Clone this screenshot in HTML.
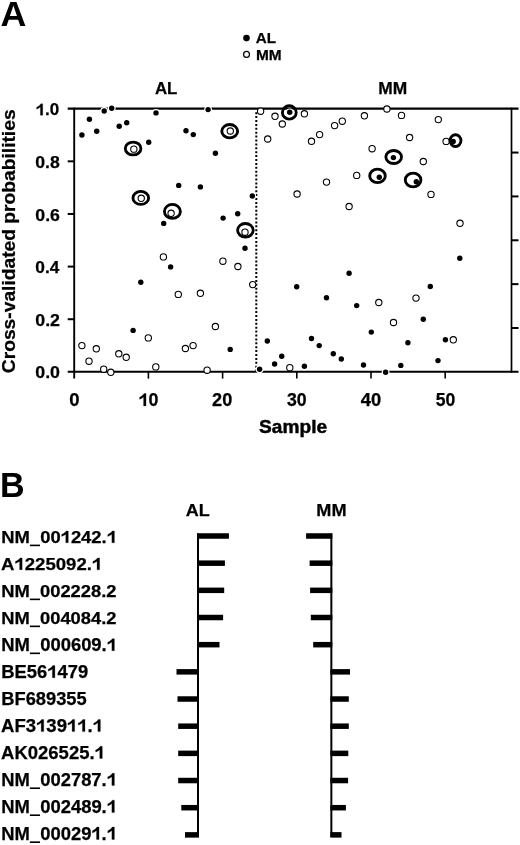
<!DOCTYPE html>
<html><head><meta charset="utf-8"><style>
html,body{margin:0;padding:0;background:#fff;}
body{width:520px;height:845px;overflow:hidden;}
svg{display:block;will-change:transform;filter:blur(0.35px);}
text{font-family:"Liberation Sans",sans-serif;font-weight:bold;fill:#000;stroke:#000;stroke-width:0.25px;font-kerning:none;}
</style></head><body>
<svg width="520" height="845" viewBox="0 0 520 845">
<g stroke="#000" stroke-width="2.0" fill="none" stroke-linecap="butt">
<line x1="74.2" y1="107.7" x2="74.2" y2="378.6" stroke-width="1.9"/>
<line x1="67.7" y1="108.7" x2="518.5" y2="108.7" stroke-width="2.2"/>
<line x1="67.7" y1="371.85" x2="518.5" y2="371.85" stroke-width="2.0"/>
<line x1="511.5" y1="107.7" x2="511.5" y2="372.85" stroke-width="1.7"/>
<line x1="67.7" y1="319.22" x2="74.2" y2="319.22"/>
<line x1="67.7" y1="266.59" x2="74.2" y2="266.59"/>
<line x1="67.7" y1="213.96" x2="74.2" y2="213.96"/>
<line x1="67.7" y1="161.33" x2="74.2" y2="161.33"/>
<line x1="511.5" y1="327.99" x2="518.5" y2="327.99"/>
<line x1="511.5" y1="284.13" x2="518.5" y2="284.13"/>
<line x1="511.5" y1="240.28" x2="518.5" y2="240.28"/>
<line x1="511.5" y1="196.42" x2="518.5" y2="196.42"/>
<line x1="511.5" y1="152.56" x2="518.5" y2="152.56"/>
<line x1="148.40" y1="371.85" x2="148.40" y2="378.6" stroke-width="1.6"/>
<line x1="222.60" y1="371.85" x2="222.60" y2="378.6" stroke-width="1.6"/>
<line x1="296.80" y1="371.85" x2="296.80" y2="378.6" stroke-width="1.6"/>
<line x1="371.00" y1="371.85" x2="371.00" y2="378.6" stroke-width="1.6"/>
<line x1="445.20" y1="371.85" x2="445.20" y2="378.6" stroke-width="1.6"/>
</g>
<line x1="256.3" y1="112.2" x2="256.3" y2="371" stroke="#000" stroke-width="2" stroke-dasharray="2 1.9"/>
<circle cx="81.9" cy="345.6" r="3.15" fill="#fff" stroke="#000" stroke-width="1.1"/>
<circle cx="89" cy="361.2" r="3.15" fill="#fff" stroke="#000" stroke-width="1.1"/>
<circle cx="96.3" cy="348.8" r="3.15" fill="#fff" stroke="#000" stroke-width="1.1"/>
<circle cx="103.7" cy="369.2" r="3.15" fill="#fff" stroke="#000" stroke-width="1.1"/>
<circle cx="110.8" cy="372.3" r="3.15" fill="#fff" stroke="#000" stroke-width="1.1"/>
<circle cx="118.8" cy="353.8" r="3.15" fill="#fff" stroke="#000" stroke-width="1.1"/>
<circle cx="126.2" cy="357.3" r="3.15" fill="#fff" stroke="#000" stroke-width="1.1"/>
<circle cx="133.85" cy="149.15" r="3.15" fill="#fff" stroke="#000" stroke-width="1.1"/>
<circle cx="141.25" cy="198.3" r="3.15" fill="#fff" stroke="#000" stroke-width="1.1"/>
<circle cx="148.3" cy="337.9" r="3.15" fill="#fff" stroke="#000" stroke-width="1.1"/>
<circle cx="155.8" cy="366.9" r="3.15" fill="#fff" stroke="#000" stroke-width="1.1"/>
<circle cx="163.4" cy="256.9" r="3.15" fill="#fff" stroke="#000" stroke-width="1.1"/>
<circle cx="171.1" cy="213.3" r="3.15" fill="#fff" stroke="#000" stroke-width="1.1"/>
<circle cx="178.3" cy="294.4" r="3.15" fill="#fff" stroke="#000" stroke-width="1.1"/>
<circle cx="185.4" cy="348.5" r="3.15" fill="#fff" stroke="#000" stroke-width="1.1"/>
<circle cx="193.1" cy="345.6" r="3.15" fill="#fff" stroke="#000" stroke-width="1.1"/>
<circle cx="200.4" cy="293.3" r="3.15" fill="#fff" stroke="#000" stroke-width="1.1"/>
<circle cx="207.1" cy="370.2" r="3.15" fill="#fff" stroke="#000" stroke-width="1.1"/>
<circle cx="215.4" cy="326.5" r="3.15" fill="#fff" stroke="#000" stroke-width="1.1"/>
<circle cx="222.9" cy="261.2" r="3.15" fill="#fff" stroke="#000" stroke-width="1.1"/>
<circle cx="230.3" cy="131" r="3.15" fill="#fff" stroke="#000" stroke-width="1.1"/>
<circle cx="237.9" cy="266.5" r="3.15" fill="#fff" stroke="#000" stroke-width="1.1"/>
<circle cx="245" cy="232.2" r="3.15" fill="#fff" stroke="#000" stroke-width="1.1"/>
<circle cx="252.7" cy="284.6" r="3.15" fill="#fff" stroke="#000" stroke-width="1.1"/>
<circle cx="260.6" cy="111.2" r="3.15" fill="#fff" stroke="#000" stroke-width="1.1"/>
<circle cx="267.7" cy="139" r="3.15" fill="#fff" stroke="#000" stroke-width="1.1"/>
<circle cx="275" cy="116.3" r="3.15" fill="#fff" stroke="#000" stroke-width="1.1"/>
<circle cx="282.3" cy="124" r="3.15" fill="#fff" stroke="#000" stroke-width="1.1"/>
<circle cx="289.8" cy="367.7" r="3.15" fill="#fff" stroke="#000" stroke-width="1.1"/>
<circle cx="297.1" cy="194" r="3.15" fill="#fff" stroke="#000" stroke-width="1.1"/>
<circle cx="304.4" cy="113.8" r="3.15" fill="#fff" stroke="#000" stroke-width="1.1"/>
<circle cx="311.5" cy="141.3" r="3.15" fill="#fff" stroke="#000" stroke-width="1.1"/>
<circle cx="319.6" cy="134.6" r="3.15" fill="#fff" stroke="#000" stroke-width="1.1"/>
<circle cx="326.5" cy="182.1" r="3.15" fill="#fff" stroke="#000" stroke-width="1.1"/>
<circle cx="334.6" cy="125.6" r="3.15" fill="#fff" stroke="#000" stroke-width="1.1"/>
<circle cx="342.3" cy="121.2" r="3.15" fill="#fff" stroke="#000" stroke-width="1.1"/>
<circle cx="349.1" cy="206.5" r="3.15" fill="#fff" stroke="#000" stroke-width="1.1"/>
<circle cx="356.7" cy="175.4" r="3.15" fill="#fff" stroke="#000" stroke-width="1.1"/>
<circle cx="364.4" cy="115.8" r="3.15" fill="#fff" stroke="#000" stroke-width="1.1"/>
<circle cx="372.1" cy="148.7" r="3.15" fill="#fff" stroke="#000" stroke-width="1.1"/>
<circle cx="378.8" cy="302.5" r="3.15" fill="#fff" stroke="#000" stroke-width="1.1"/>
<circle cx="386.9" cy="109" r="3.15" fill="#fff" stroke="#000" stroke-width="1.1"/>
<circle cx="393.5" cy="322.5" r="3.15" fill="#fff" stroke="#000" stroke-width="1.1"/>
<circle cx="401.5" cy="115.4" r="3.15" fill="#fff" stroke="#000" stroke-width="1.1"/>
<circle cx="409.6" cy="137.5" r="3.15" fill="#fff" stroke="#000" stroke-width="1.1"/>
<circle cx="416" cy="298.1" r="3.15" fill="#fff" stroke="#000" stroke-width="1.1"/>
<circle cx="423.3" cy="161.5" r="3.15" fill="#fff" stroke="#000" stroke-width="1.1"/>
<circle cx="431" cy="194.4" r="3.15" fill="#fff" stroke="#000" stroke-width="1.1"/>
<circle cx="438.3" cy="119.6" r="3.15" fill="#fff" stroke="#000" stroke-width="1.1"/>
<circle cx="446.1" cy="141.4" r="3.15" fill="#fff" stroke="#000" stroke-width="1.1"/>
<circle cx="453.3" cy="339.8" r="3.15" fill="#fff" stroke="#000" stroke-width="1.1"/>
<circle cx="460" cy="223.3" r="3.15" fill="#fff" stroke="#000" stroke-width="1.1"/>
<circle cx="81.9" cy="135" r="3.9000000000000004" fill="#fff"/>
<circle cx="89.4" cy="119.2" r="3.9000000000000004" fill="#fff"/>
<circle cx="96.7" cy="131.3" r="3.9000000000000004" fill="#fff"/>
<circle cx="104.2" cy="111" r="3.9000000000000004" fill="#fff"/>
<circle cx="111.7" cy="108.3" r="3.9000000000000004" fill="#fff"/>
<circle cx="119.2" cy="126.3" r="3.9000000000000004" fill="#fff"/>
<circle cx="126.7" cy="122.7" r="3.9000000000000004" fill="#fff"/>
<circle cx="133.1" cy="330.4" r="3.9000000000000004" fill="#fff"/>
<circle cx="140.8" cy="282.3" r="3.9000000000000004" fill="#fff"/>
<circle cx="148.7" cy="142.3" r="3.9000000000000004" fill="#fff"/>
<circle cx="156" cy="112.9" r="3.9000000000000004" fill="#fff"/>
<circle cx="163.7" cy="223.4" r="3.9000000000000004" fill="#fff"/>
<circle cx="170.6" cy="266.9" r="3.9000000000000004" fill="#fff"/>
<circle cx="178.7" cy="185.4" r="3.9000000000000004" fill="#fff"/>
<circle cx="186" cy="130.8" r="3.9000000000000004" fill="#fff"/>
<circle cx="193.3" cy="134.6" r="3.9000000000000004" fill="#fff"/>
<circle cx="200.4" cy="186.9" r="3.9000000000000004" fill="#fff"/>
<circle cx="208.1" cy="109.6" r="3.9000000000000004" fill="#fff"/>
<circle cx="215.4" cy="153.3" r="3.9000000000000004" fill="#fff"/>
<circle cx="223.1" cy="218.1" r="3.9000000000000004" fill="#fff"/>
<circle cx="230.2" cy="349.4" r="3.9000000000000004" fill="#fff"/>
<circle cx="237.7" cy="213.7" r="3.9000000000000004" fill="#fff"/>
<circle cx="245" cy="248.3" r="3.9000000000000004" fill="#fff"/>
<circle cx="252.3" cy="196" r="3.9000000000000004" fill="#fff"/>
<circle cx="259.6" cy="369.2" r="3.9000000000000004" fill="#fff"/>
<circle cx="267.3" cy="341" r="3.9000000000000004" fill="#fff"/>
<circle cx="274.6" cy="364" r="3.9000000000000004" fill="#fff"/>
<circle cx="281.7" cy="356.3" r="3.9000000000000004" fill="#fff"/>
<circle cx="289.7" cy="112.3" r="3.9000000000000004" fill="#fff"/>
<circle cx="296.7" cy="286.7" r="3.9000000000000004" fill="#fff"/>
<circle cx="304.4" cy="366.3" r="3.9000000000000004" fill="#fff"/>
<circle cx="311.5" cy="338.5" r="3.9000000000000004" fill="#fff"/>
<circle cx="319.2" cy="345.6" r="3.9000000000000004" fill="#fff"/>
<circle cx="326.5" cy="297.7" r="3.9000000000000004" fill="#fff"/>
<circle cx="333.3" cy="353.8" r="3.9000000000000004" fill="#fff"/>
<circle cx="341.3" cy="359" r="3.9000000000000004" fill="#fff"/>
<circle cx="349.1" cy="273.3" r="3.9000000000000004" fill="#fff"/>
<circle cx="356.7" cy="305.6" r="3.9000000000000004" fill="#fff"/>
<circle cx="363.5" cy="365" r="3.9000000000000004" fill="#fff"/>
<circle cx="371.3" cy="332.1" r="3.9000000000000004" fill="#fff"/>
<circle cx="379.3" cy="177.2" r="3.9000000000000004" fill="#fff"/>
<circle cx="385.6" cy="372.3" r="3.9000000000000004" fill="#fff"/>
<circle cx="393.4" cy="157.6" r="3.9000000000000004" fill="#fff"/>
<circle cx="400.8" cy="365.4" r="3.9000000000000004" fill="#fff"/>
<circle cx="407.9" cy="342.7" r="3.9000000000000004" fill="#fff"/>
<circle cx="416.3" cy="181.7" r="3.9000000000000004" fill="#fff"/>
<circle cx="423.3" cy="319.2" r="3.9000000000000004" fill="#fff"/>
<circle cx="430.3" cy="286.5" r="3.9000000000000004" fill="#fff"/>
<circle cx="438" cy="360.6" r="3.9000000000000004" fill="#fff"/>
<circle cx="445.4" cy="339.8" r="3.9000000000000004" fill="#fff"/>
<circle cx="453.2" cy="141.5" r="3.9000000000000004" fill="#fff"/>
<circle cx="459.8" cy="258.3" r="3.9000000000000004" fill="#fff"/>
<circle cx="81.9" cy="135" r="2.7" fill="#000"/>
<circle cx="89.4" cy="119.2" r="2.7" fill="#000"/>
<circle cx="96.7" cy="131.3" r="2.7" fill="#000"/>
<circle cx="104.2" cy="111" r="2.7" fill="#000"/>
<circle cx="111.7" cy="108.3" r="2.7" fill="#000"/>
<circle cx="119.2" cy="126.3" r="2.7" fill="#000"/>
<circle cx="126.7" cy="122.7" r="2.7" fill="#000"/>
<circle cx="133.1" cy="330.4" r="2.7" fill="#000"/>
<circle cx="140.8" cy="282.3" r="2.7" fill="#000"/>
<circle cx="148.7" cy="142.3" r="2.7" fill="#000"/>
<circle cx="156" cy="112.9" r="2.7" fill="#000"/>
<circle cx="163.7" cy="223.4" r="2.7" fill="#000"/>
<circle cx="170.6" cy="266.9" r="2.7" fill="#000"/>
<circle cx="178.7" cy="185.4" r="2.7" fill="#000"/>
<circle cx="186" cy="130.8" r="2.7" fill="#000"/>
<circle cx="193.3" cy="134.6" r="2.7" fill="#000"/>
<circle cx="200.4" cy="186.9" r="2.7" fill="#000"/>
<circle cx="208.1" cy="109.6" r="2.7" fill="#000"/>
<circle cx="215.4" cy="153.3" r="2.7" fill="#000"/>
<circle cx="223.1" cy="218.1" r="2.7" fill="#000"/>
<circle cx="230.2" cy="349.4" r="2.7" fill="#000"/>
<circle cx="237.7" cy="213.7" r="2.7" fill="#000"/>
<circle cx="245" cy="248.3" r="2.7" fill="#000"/>
<circle cx="252.3" cy="196" r="2.7" fill="#000"/>
<circle cx="259.6" cy="369.2" r="2.7" fill="#000"/>
<circle cx="267.3" cy="341" r="2.7" fill="#000"/>
<circle cx="274.6" cy="364" r="2.7" fill="#000"/>
<circle cx="281.7" cy="356.3" r="2.7" fill="#000"/>
<circle cx="289.7" cy="112.3" r="2.7" fill="#000"/>
<circle cx="296.7" cy="286.7" r="2.7" fill="#000"/>
<circle cx="304.4" cy="366.3" r="2.7" fill="#000"/>
<circle cx="311.5" cy="338.5" r="2.7" fill="#000"/>
<circle cx="319.2" cy="345.6" r="2.7" fill="#000"/>
<circle cx="326.5" cy="297.7" r="2.7" fill="#000"/>
<circle cx="333.3" cy="353.8" r="2.7" fill="#000"/>
<circle cx="341.3" cy="359" r="2.7" fill="#000"/>
<circle cx="349.1" cy="273.3" r="2.7" fill="#000"/>
<circle cx="356.7" cy="305.6" r="2.7" fill="#000"/>
<circle cx="363.5" cy="365" r="2.7" fill="#000"/>
<circle cx="371.3" cy="332.1" r="2.7" fill="#000"/>
<circle cx="379.3" cy="177.2" r="2.7" fill="#000"/>
<circle cx="385.6" cy="372.3" r="2.7" fill="#000"/>
<circle cx="393.4" cy="157.6" r="2.7" fill="#000"/>
<circle cx="400.8" cy="365.4" r="2.7" fill="#000"/>
<circle cx="407.9" cy="342.7" r="2.7" fill="#000"/>
<circle cx="416.3" cy="181.7" r="2.7" fill="#000"/>
<circle cx="423.3" cy="319.2" r="2.7" fill="#000"/>
<circle cx="430.3" cy="286.5" r="2.7" fill="#000"/>
<circle cx="438" cy="360.6" r="2.7" fill="#000"/>
<circle cx="445.4" cy="339.8" r="2.7" fill="#000"/>
<circle cx="453.2" cy="141.5" r="2.7" fill="#000"/>
<circle cx="459.8" cy="258.3" r="2.7" fill="#000"/>
<ellipse cx="133.1" cy="148.5" rx="7.83" ry="6.43" fill="none" stroke="#000" stroke-width="2.85"/>
<ellipse cx="140.8" cy="197.9" rx="7.83" ry="6.53" fill="none" stroke="#000" stroke-width="2.85"/>
<ellipse cx="172.4" cy="211.4" rx="7.98" ry="6.98" fill="none" stroke="#000" stroke-width="2.85"/>
<ellipse cx="229.7" cy="131.2" rx="7.92" ry="6.67" fill="none" stroke="#000" stroke-width="2.85"/>
<ellipse cx="245.4" cy="230.3" rx="7.83" ry="6.83" fill="none" stroke="#000" stroke-width="2.85"/>
<ellipse cx="289.3" cy="112.4" rx="6.92" ry="6.67" fill="none" stroke="#000" stroke-width="2.85"/>
<ellipse cx="377.5" cy="175.9" rx="7.78" ry="6.78" fill="none" stroke="#000" stroke-width="2.85"/>
<ellipse cx="393.7" cy="157" rx="7.83" ry="6.53" fill="none" stroke="#000" stroke-width="2.85"/>
<ellipse cx="413.1" cy="180" rx="7.83" ry="6.83" fill="none" stroke="#000" stroke-width="2.85"/>
<ellipse cx="455.5" cy="140.6" rx="5.48" ry="5.88" fill="none" stroke="#000" stroke-width="2.85"/>
<circle cx="246.5" cy="38.1" r="3.3" fill="#000"/>
<circle cx="246.5" cy="54.4" r="2.95" fill="#fff" stroke="#000" stroke-width="1.2"/>
<line x1="198.0" y1="533.5" x2="198.0" y2="837" stroke="#000" stroke-width="2"/>
<line x1="331.35" y1="533.5" x2="331.35" y2="837" stroke="#000" stroke-width="2"/>
<rect x="197.0" y="533.25" width="31.90" height="5.5"/>
<rect x="306.10" y="533.25" width="26.25" height="5.5"/>
<rect x="197.0" y="560.42" width="27.90" height="5.5"/>
<rect x="309.60" y="560.42" width="22.75" height="5.5"/>
<rect x="197.0" y="587.59" width="27.20" height="5.5"/>
<rect x="310.10" y="587.59" width="22.25" height="5.5"/>
<rect x="197.0" y="614.76" width="26.10" height="5.5"/>
<rect x="310.80" y="614.76" width="21.55" height="5.5"/>
<rect x="197.0" y="641.93" width="22.50" height="5.5"/>
<rect x="313.20" y="641.93" width="19.15" height="5.5"/>
<rect x="176.50" y="669.10" width="22.50" height="5.5"/>
<rect x="330.35" y="669.10" width="19.65" height="5.5"/>
<rect x="177.50" y="696.27" width="21.50" height="5.5"/>
<rect x="330.35" y="696.27" width="18.45" height="5.5"/>
<rect x="178.20" y="723.44" width="20.80" height="5.5"/>
<rect x="330.35" y="723.44" width="18.45" height="5.5"/>
<rect x="178.20" y="750.61" width="20.80" height="5.5"/>
<rect x="330.35" y="750.61" width="17.95" height="5.5"/>
<rect x="178.20" y="777.78" width="20.80" height="5.5"/>
<rect x="330.35" y="777.78" width="17.75" height="5.5"/>
<rect x="181.30" y="804.95" width="17.70" height="5.5"/>
<rect x="330.35" y="804.95" width="15.55" height="5.5"/>
<rect x="185.00" y="832.12" width="14.00" height="5.5"/>
<rect x="330.35" y="832.12" width="11.15" height="5.5"/>
<rect x="29.9" y="544.60" width="10.1" height="1.6"/>
<rect x="29.9" y="598.56" width="10.1" height="1.6"/>
<rect x="29.9" y="625.54" width="10.1" height="1.6"/>
<rect x="29.9" y="652.52" width="10.1" height="1.6"/>
<rect x="29.9" y="787.42" width="10.1" height="1.6"/>
<rect x="29.9" y="814.40" width="10.1" height="1.6"/>
<rect x="29.9" y="841.38" width="10.1" height="1.6"/>
<text x="0.60" y="25.50" font-size="35.35" textLength="25.87" lengthAdjust="spacingAndGlyphs" style="stroke-width:0">A</text>
<text x="-0.00" y="497.10" font-size="35.78" textLength="24.63" lengthAdjust="spacingAndGlyphs" style="stroke-width:0">B</text>
<text x="255.82" y="42.90" font-size="14.98" textLength="20.24" lengthAdjust="spacingAndGlyphs">AL</text>
<text x="255.96" y="59.90" font-size="14.98" textLength="25.70" lengthAdjust="spacingAndGlyphs">MM</text>
<text x="154.98" y="94.20" font-size="15.85" textLength="22.43" lengthAdjust="spacingAndGlyphs">AL</text>
<text x="378.23" y="94.00" font-size="15.71" textLength="28.96" lengthAdjust="spacingAndGlyphs">MM</text>
<text x="35.29" y="378.45" font-size="16.63" textLength="24.73" lengthAdjust="spacingAndGlyphs">0.0</text>
<text x="35.29" y="325.82" font-size="16.63" textLength="24.73" lengthAdjust="spacingAndGlyphs">0.2</text>
<text x="35.31" y="273.19" font-size="16.63" textLength="24.08" lengthAdjust="spacingAndGlyphs">0.4</text>
<text x="35.29" y="220.56" font-size="16.63" textLength="24.63" lengthAdjust="spacingAndGlyphs">0.6</text>
<text x="35.29" y="167.93" font-size="16.63" textLength="24.54" lengthAdjust="spacingAndGlyphs">0.8</text>
<text x="35.66" y="115.30" font-size="16.63" textLength="23.62" lengthAdjust="spacingAndGlyphs"> .0</text><path transform="matrix(0.00830,0,0,-0.00812,35.66,115.30)" d="M 851 0L 570 0L 570 1018C 500 955 424 902 341 855C 259 809 183 775 113 751L 113 996C 226 1037 329 1099 422 1180C 515 1262 580 1338 617 1409L 851 1409Z" stroke="#000" stroke-width="30.8"/>
<text x="69.26" y="405.90" font-size="17.92" textLength="10.30" lengthAdjust="spacingAndGlyphs">0</text>
<text x="138.62" y="405.90" font-size="17.92" textLength="19.84" lengthAdjust="spacingAndGlyphs"> 0</text><path transform="matrix(0.00871,0,0,-0.00875,138.62,405.90)" d="M 851 0L 570 0L 570 1018C 500 955 424 902 341 855C 259 809 183 775 113 751L 113 996C 226 1037 329 1099 422 1180C 515 1262 580 1338 617 1409L 851 1409Z" stroke="#000" stroke-width="28.6"/>
<text x="212.06" y="405.90" font-size="17.92" textLength="20.20" lengthAdjust="spacingAndGlyphs">20</text>
<text x="286.90" y="405.90" font-size="17.92" textLength="19.65" lengthAdjust="spacingAndGlyphs">30</text>
<text x="360.72" y="405.90" font-size="17.92" textLength="20.45" lengthAdjust="spacingAndGlyphs">40</text>
<text x="435.67" y="405.90" font-size="17.92" textLength="19.57" lengthAdjust="spacingAndGlyphs">50</text>
<text x="259.13" y="432.50" font-size="18.34" textLength="67.94" lengthAdjust="spacingAndGlyphs" style="stroke-width:0.45px">Sample</text>
<text transform="translate(14.50,373.17) rotate(-90)" x="0" y="0" font-size="17.66" textLength="263.76" lengthAdjust="spacingAndGlyphs">Cross-validated probabilities</text>
<text x="185.75" y="516.10" font-size="17.31" textLength="24.00" lengthAdjust="spacingAndGlyphs">AL</text>
<text x="316.27" y="516.10" font-size="17.31" textLength="30.27" lengthAdjust="spacingAndGlyphs">MM</text>
<text x="1.26" y="542.75" font-size="17.13" textLength="115.74" lengthAdjust="spacingAndGlyphs">NM 00 242. </text><path transform="matrix(0.00900,0,0,-0.00837,60.64,542.75)" d="M 851 0L 570 0L 570 1018C 500 955 424 902 341 855C 259 809 183 775 113 751L 113 996C 226 1037 329 1099 422 1180C 515 1262 580 1338 617 1409L 851 1409Z" stroke="#000" stroke-width="29.9"/><path transform="matrix(0.00900,0,0,-0.00837,106.74,542.75)" d="M 851 0L 570 0L 570 1018C 500 955 424 902 341 855C 259 809 183 775 113 751L 113 996C 226 1037 329 1099 422 1180C 515 1262 580 1338 617 1409L 851 1409Z" stroke="#000" stroke-width="29.9"/>
<text x="1.04" y="569.73" font-size="17.22" textLength="101.18" lengthAdjust="spacingAndGlyphs">A 225092. </text><path transform="matrix(0.00907,0,0,-0.00841,14.44,569.73)" d="M 851 0L 570 0L 570 1018C 500 955 424 902 341 855C 259 809 183 775 113 751L 113 996C 226 1037 329 1099 422 1180C 515 1262 580 1338 617 1409L 851 1409Z" stroke="#000" stroke-width="29.7"/><path transform="matrix(0.00907,0,0,-0.00841,91.88,569.73)" d="M 851 0L 570 0L 570 1018C 500 955 424 902 341 855C 259 809 183 775 113 751L 113 996C 226 1037 329 1099 422 1180C 515 1262 580 1338 617 1409L 851 1409Z" stroke="#000" stroke-width="29.7"/>
<text x="1.26" y="596.71" font-size="17.30" textLength="115.27" lengthAdjust="spacingAndGlyphs">NM 002228.2</text>
<text x="1.26" y="623.69" font-size="17.39" textLength="115.27" lengthAdjust="spacingAndGlyphs">NM 004084.2</text>
<text x="1.26" y="650.67" font-size="17.48" textLength="115.74" lengthAdjust="spacingAndGlyphs">NM 000609. </text><path transform="matrix(0.00900,0,0,-0.00853,106.74,650.67)" d="M 851 0L 570 0L 570 1018C 500 955 424 902 341 855C 259 809 183 775 113 751L 113 996C 226 1037 329 1099 422 1180C 515 1262 580 1338 617 1409L 851 1409Z" stroke="#000" stroke-width="29.3"/>
<text x="1.26" y="677.65" font-size="17.56" textLength="86.91" lengthAdjust="spacingAndGlyphs">BE56 479</text><path transform="matrix(0.00898,0,0,-0.00858,47.26,677.65)" d="M 851 0L 570 0L 570 1018C 500 955 424 902 341 855C 259 809 183 775 113 751L 113 996C 226 1037 329 1099 422 1180C 515 1262 580 1338 617 1409L 851 1409Z" stroke="#000" stroke-width="29.2"/>
<text x="1.27" y="704.63" font-size="17.65" textLength="85.44" lengthAdjust="spacingAndGlyphs">BF689355</text>
<text x="1.04" y="731.61" font-size="17.73" textLength="101.97" lengthAdjust="spacingAndGlyphs">AF3 39  . </text><path transform="matrix(0.00905,0,0,-0.00866,36.04,731.61)" d="M 851 0L 570 0L 570 1018C 500 955 424 902 341 855C 259 809 183 775 113 751L 113 996C 226 1037 329 1099 422 1180C 515 1262 580 1338 617 1409L 851 1409Z" stroke="#000" stroke-width="28.9"/><path transform="matrix(0.00905,0,0,-0.00866,66.95,731.61)" d="M 851 0L 570 0L 570 1018C 500 955 424 902 341 855C 259 809 183 775 113 751L 113 996C 226 1037 329 1099 422 1180C 515 1262 580 1338 617 1409L 851 1409Z" stroke="#000" stroke-width="28.9"/><path transform="matrix(0.00905,0,0,-0.00866,77.25,731.61)" d="M 851 0L 570 0L 570 1018C 500 955 424 902 341 855C 259 809 183 775 113 751L 113 996C 226 1037 329 1099 422 1180C 515 1262 580 1338 617 1409L 851 1409Z" stroke="#000" stroke-width="28.9"/><path transform="matrix(0.00905,0,0,-0.00866,92.70,731.61)" d="M 851 0L 570 0L 570 1018C 500 955 424 902 341 855C 259 809 183 775 113 751L 113 996C 226 1037 329 1099 422 1180C 515 1262 580 1338 617 1409L 851 1409Z" stroke="#000" stroke-width="28.9"/>
<text x="1.04" y="758.59" font-size="17.82" textLength="103.87" lengthAdjust="spacingAndGlyphs">AK026525. </text><path transform="matrix(0.00903,0,0,-0.00870,94.61,758.59)" d="M 851 0L 570 0L 570 1018C 500 955 424 902 341 855C 259 809 183 775 113 751L 113 996C 226 1037 329 1099 422 1180C 515 1262 580 1338 617 1409L 851 1409Z" stroke="#000" stroke-width="28.7"/>
<text x="1.26" y="785.57" font-size="17.91" textLength="115.74" lengthAdjust="spacingAndGlyphs">NM 002787. </text><path transform="matrix(0.00900,0,0,-0.00874,106.74,785.57)" d="M 851 0L 570 0L 570 1018C 500 955 424 902 341 855C 259 809 183 775 113 751L 113 996C 226 1037 329 1099 422 1180C 515 1262 580 1338 617 1409L 851 1409Z" stroke="#000" stroke-width="28.6"/>
<text x="1.26" y="812.55" font-size="17.99" textLength="115.74" lengthAdjust="spacingAndGlyphs">NM 002489. </text><path transform="matrix(0.00900,0,0,-0.00879,106.74,812.55)" d="M 851 0L 570 0L 570 1018C 500 955 424 902 341 855C 259 809 183 775 113 751L 113 996C 226 1037 329 1099 422 1180C 515 1262 580 1338 617 1409L 851 1409Z" stroke="#000" stroke-width="28.5"/>
<text x="1.26" y="839.53" font-size="18.08" textLength="115.74" lengthAdjust="spacingAndGlyphs">NM 00029 . </text><path transform="matrix(0.00900,0,0,-0.00883,91.38,839.53)" d="M 851 0L 570 0L 570 1018C 500 955 424 902 341 855C 259 809 183 775 113 751L 113 996C 226 1037 329 1099 422 1180C 515 1262 580 1338 617 1409L 851 1409Z" stroke="#000" stroke-width="28.3"/><path transform="matrix(0.00900,0,0,-0.00883,106.74,839.53)" d="M 851 0L 570 0L 570 1018C 500 955 424 902 341 855C 259 809 183 775 113 751L 113 996C 226 1037 329 1099 422 1180C 515 1262 580 1338 617 1409L 851 1409Z" stroke="#000" stroke-width="28.3"/>
</svg>
</body></html>
